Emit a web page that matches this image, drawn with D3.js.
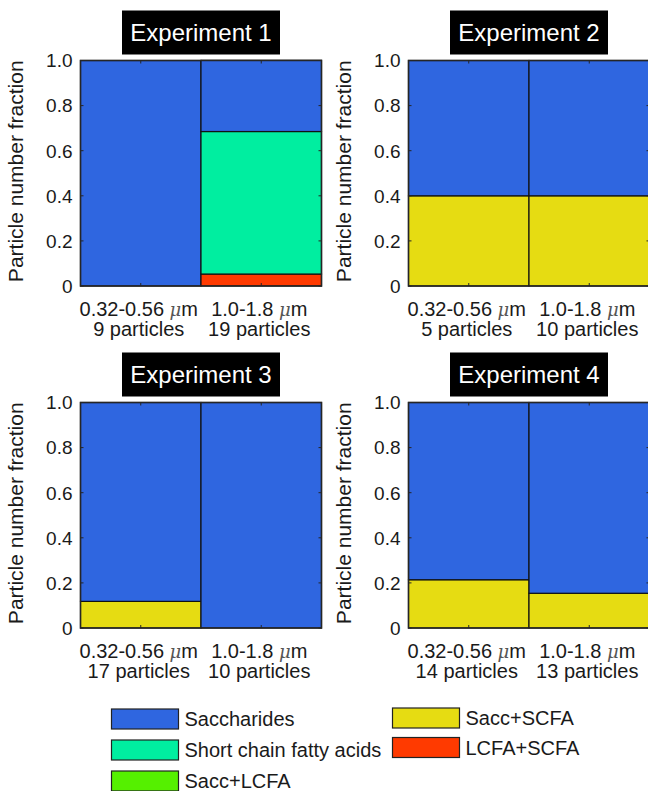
<!DOCTYPE html>
<html>
<head>
<meta charset="utf-8">
<script src="https://cdn.jsdelivr.net/npm/d3@7"></script>
<style>
  body { margin: 0; background: #fff; }
  text { font-family: "Liberation Sans", Arial, sans-serif; fill: #1a1a1a; }
</style>
</head>
<body>
<div id="chart"></div>
<script>
// experiments and size bins
const experiments = ["Experiment 1", "Experiment 2", "Experiment 3", "Experiment 4"];
const sizeBins = ["0.32-0.56", "1.0-1.8"];
const particleCounts = [[9, 19], [5, 10], [17, 10], [14, 13]];

// fractions per class, [experiment][bin]
const lcfaScfa  = [[0, 0.053], [0, 0], [0, 0], [0, 0]];
const saccScfa  = [[0, 0], [0.4, 0.4], [0.118, 0], [0.214, 0.154]];
const saccLcfa  = [[0, 0], [0, 0], [0, 0], [0, 0]];
const scfa      = [[0, 0.632], [0, 0], [0, 0], [0, 0]];
const saccharides = [[1.0, 0.316], [0.6, 0.6], [0.882, 1.0], [0.786, 0.846]];

const yTicks = [0, 0.2, 0.4, 0.6, 0.8, 1.0];

// legend classes (stack order bottom -> top in series list)
const series = [
  {name: "LCFA+SCFA", values: lcfaScfa, color: "#ff3a00"},
  {name: "Sacc+SCFA", values: saccScfa, color: "#e6dc12"},
  {name: "Sacc+LCFA", values: saccLcfa, color: "#55f000"},
  {name: "Short chain fatty acids", values: scfa, color: "#00eea0"},
  {name: "Saccharides", values: saccharides, color: "#2f66e0"}
];
const legendOrder = ["Saccharides", "Short chain fatty acids", "Sacc+LCFA", "Sacc+SCFA", "LCFA+SCFA"];

const W = 648, H = 791;
const svg = d3.select("#chart").append("svg")
    .attr("width", W).attr("height", H);

// panel placement
const panelW = 241, panelH = 225.5;
const panelPos = [
  {x: 80.5, y: 60.5}, {x: 408.5, y: 60.5},
  {x: 80.5, y: 402.5}, {x: 408.5, y: 402.5}
];

const x = d3.scaleLinear().domain([0.5, 2.5]).range([0, panelW]);
const y = d3.scaleLinear().domain([0, 1]).range([panelH, 0]);

experiments.forEach((exp, e) => {
  const g = svg.append("g")
      .attr("transform", `translate(${panelPos[e].x},${panelPos[e].y})`);

  // stack the classes for each bin
  sizeBins.forEach((bin, b) => {
    let base = 0;
    series.forEach(s => {
      const v = s.values[e][b];
      if (v > 0) {
        g.append("rect")
          .attr("x", x(b + 0.5))
          .attr("width", x(b + 1.5) - x(b + 0.5))
          .attr("y", y(base + v))
          .attr("height", y(base) - y(base + v))
          .attr("fill", s.color)
          .attr("stroke", "#111")
          .attr("stroke-width", 1.2);
      }
      base += v;
    });
  });

  // axes box
  g.append("rect")
    .attr("width", panelW).attr("height", panelH)
    .attr("fill", "none").attr("stroke", "#262626").attr("stroke-width", 1.5);

  // inward ticks
  yTicks.forEach(t => {
    g.append("line").attr("x1", 0).attr("x2", 3).attr("y1", y(t)).attr("y2", y(t))
      .attr("stroke", "#262626");
    g.append("line").attr("x1", panelW - 3).attr("x2", panelW).attr("y1", y(t)).attr("y2", y(t))
      .attr("stroke", "#262626");
  });
  [1, 2].forEach(t => {
    g.append("line").attr("x1", x(t)).attr("x2", x(t)).attr("y1", panelH).attr("y2", panelH - 3)
      .attr("stroke", "#262626");
    g.append("line").attr("x1", x(t)).attr("x2", x(t)).attr("y1", 0).attr("y2", 3)
      .attr("stroke", "#262626");
  });

  // y tick labels
  g.selectAll(".ytl").data(yTicks).enter().append("text")
    .attr("x", -8).attr("y", d => y(d))
    .attr("dy", "0.36em")
    .attr("text-anchor", "end")
    .style("font-size", "19px")
    .text(d => d === 0 ? "0" : d3.format(".1f")(d));

  // y label
  g.append("text")
    .attr("transform", `translate(${-58},${panelH / 2 - 2}) rotate(-90)`)
    .attr("text-anchor", "middle")
    .style("font-size", "21px")
    .text("Particle number fraction");

  // x labels (two lines)
  sizeBins.forEach((bin, b) => {
    const t1 = g.append("text")
      .attr("x", x(b + 1) - 2).attr("y", panelH + 29.5)
      .attr("text-anchor", "middle")
      .style("font-size", "20px");
    t1.append("tspan").text(bin + " ");
    t1.append("tspan").style("font-style", "italic").style("fill", "#555")
      .style("font-family", "'DejaVu Serif', serif").style("font-size", "18px").text("\u03bc");
    t1.append("tspan").text("m");

    g.append("text")
      .attr("x", x(b + 1) - 2).attr("y", panelH + 49.5)
      .attr("text-anchor", "middle")
      .style("font-size", "20px")
      .text(particleCounts[e][b] + " particles");
  });

  // title in black box
  const tb = g.append("g").attr("transform", `translate(${panelW / 2},${-28})`);
  tb.append("rect")
    .attr("x", -79).attr("y", -22).attr("width", 158).attr("height", 44)
    .attr("fill", "#000");
  tb.append("text")
    .attr("text-anchor", "middle").attr("dy", "0.36em")
    .style("font-size", "24px").style("fill", "#fff")
    .text(exp);
});

// legend
const legendPos = {
  "Saccharides": {x: 111.5, y: 709},
  "Short chain fatty acids": {x: 111.5, y: 740},
  "Sacc+LCFA": {x: 111.5, y: 771},
  "Sacc+SCFA": {x: 392.5, y: 708},
  "LCFA+SCFA": {x: 392.5, y: 737.5}
};
legendOrder.forEach(name => {
  const s = series.find(d => d.name === name);
  const p = legendPos[name];
  svg.append("rect")
    .attr("x", p.x).attr("y", p.y).attr("width", 67).attr("height", 20)
    .attr("fill", s.color).attr("stroke", "#222").attr("stroke-width", 1.2);
  svg.append("text")
    .attr("x", p.x + 73).attr("y", p.y + 17)
    .style("font-size", "20px")
    .text(name);
});
</script>
</body>
</html>
